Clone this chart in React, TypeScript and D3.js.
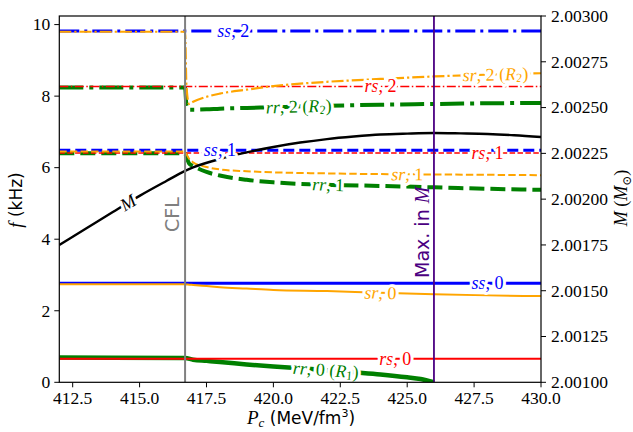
import React from 'react';
import * as d3 from 'd3';

// central pressure grid (MeV/fm^3), hadronic branch ends at CFL onset 416.7
const P = [412, 416.7, 416.75, 416.85, 417, 417.5, 418, 419, 420, 422, 424, 426, 428, 430];
const P_RR0 = [412, 416.7, 417, 417.5, 418, 419, 420, 421, 422, 423, 424, 425, 425.5, 426];
const P_M = [412, 413, 414, 415, 416, 416.7, 417, 418, 419, 420, 421, 422, 423, 424, 425, 426, 427, 428, 429, 430];

// frequencies (kHz)
const ss2 = [9.82, 9.82, 9.82, 9.82, 9.82, 9.82, 9.82, 9.82, 9.82, 9.82, 9.82, 9.82, 9.82, 9.82];
const rs2 = [8.27, 8.27, 8.27, 8.27, 8.27, 8.27, 8.27, 8.27, 8.27, 8.27, 8.27, 8.27, 8.27, 8.27];
const sr2 = [9.8, 9.8, 8.3, 7.78, 7.84, 7.98, 8.07, 8.18, 8.28, 8.4, 8.48, 8.55, 8.6, 8.64];
const rr2 = [8.24, 8.24, 7.75, 7.62, 7.62, 7.63, 7.65, 7.67, 7.69, 7.73, 7.76, 7.78, 7.8, 7.81];
const ss1 = [6.49, 6.49, 6.49, 6.49, 6.49, 6.49, 6.49, 6.49, 6.49, 6.49, 6.49, 6.49, 6.49, 6.49];
const rs1 = [6.41, 6.41, 6.41, 6.41, 6.41, 6.41, 6.41, 6.41, 6.41, 6.41, 6.41, 6.41, 6.41, 6.41];
const sr1 = [6.45, 6.45, 6.38, 6.25, 6.15, 6.02, 5.95, 5.9, 5.87, 5.84, 5.82, 5.81, 5.8, 5.79];
const rr1 = [6.4, 6.4, 6.3, 6.12, 6.05, 5.88, 5.78, 5.66, 5.59, 5.52, 5.49, 5.45, 5.41, 5.38];
const ss0 = [2.77, 2.77, 2.77, 2.77, 2.77, 2.77, 2.77, 2.77, 2.77, 2.77, 2.77, 2.77, 2.77, 2.77];
const sr0 = [2.74, 2.74, 2.735, 2.73, 2.72, 2.69, 2.66, 2.62, 2.58, 2.55, 2.5, 2.46, 2.43, 2.41];
const rs0 = [0.66, 0.66, 0.66, 0.66, 0.66, 0.66, 0.66, 0.66, 0.66, 0.66, 0.66, 0.66, 0.66, 0.66];
const rr0 = [0.69, 0.68, 0.63, 0.6, 0.57, 0.5, 0.44, 0.39, 0.34, 0.28, 0.22, 0.14, 0.09, 0.0];

// gravitational mass (Msun)
const mass = [2.00175, 2.00184, 2.00193, 2.002018, 2.002099, 2.002154, 2.002173, 2.002219, 2.002255, 2.002285,
  2.002309, 2.002328, 2.002342, 2.002353, 2.002358, 2.002361, 2.002359, 2.002356, 2.002349, 2.002339];

const P_CFL = 416.7;
const P_MAX = 426.0;

const xTicks = [412.5, 415, 417.5, 420, 422.5, 425, 427.5, 430];
const fTicks = [0, 2, 4, 6, 8, 10];
const mTicks = [2.001, 2.00125, 2.0015, 2.00175, 2.002, 2.00225, 2.0025, 2.00275, 2.003];

// label: [letters, n, sub], label position in P
const curves = [
  { id: 'rr2', p: P, v: rr2, color: 'green', w: 4, dash: '24,6,4,6', lab: ['rr', 2, 2], at: 420.95 },
  { id: 'rr1', p: P, v: rr1, color: 'green', w: 4, dash: '15,6', lab: ['rr', 1, 0], at: 422.05 },
  { id: 'rr0', p: P_RR0, v: rr0, color: 'green', w: 4.5, dash: null, lab: ['rr', 0, 1], at: 421.96 },
  { id: 'ss2', p: P, v: ss2, color: 'blue', w: 3, dash: '20,5,3,5', lab: ['ss', 2, 0], at: 418.5 },
  { id: 'ss1', p: P, v: ss1, color: 'blue', w: 3, dash: '11,5', lab: ['ss', 1, 0], at: 418.0 },
  { id: 'ss0', p: P, v: ss0, color: 'blue', w: 3, dash: null, lab: ['ss', 0, 0], at: 428.0 },
  { id: 'rs2', p: P, v: rs2, color: 'red', w: 1.5, dash: '9,2.5,1.5,2.5', lab: ['rs', 2, 0], at: 424.0 },
  { id: 'rs1', p: P, v: rs1, color: 'red', w: 1.5, dash: '5.5,2.4', lab: ['rs', 1, 0], at: 428.0 },
  { id: 'rs0', p: P, v: rs0, color: 'red', w: 2, dash: null, lab: ['rs', 0, 0], at: 424.55 },
  { id: 'sr2', p: P, v: sr2, color: 'orange', w: 2.2, dash: '12,3,2.2,3', lab: ['sr', 2, 2], at: 428.3 },
  { id: 'sr1', p: P, v: sr1, color: 'orange', w: 2, dash: '7.4,3.2', lab: ['sr', 1, 0], at: 425.0 },
  { id: 'sr0', p: P, v: sr0, color: 'orange', w: 2, dash: null, lab: ['sr', 0, 0], at: 424.0 },
];

const serif = 'Liberation Serif, DejaVu Serif, serif';
const sans = 'DejaVu Sans, sans-serif';

function interp(ps: number[], vs: number[], p: number) {
  const i = Math.max(1, Math.min(ps.length - 1, d3.bisectLeft(ps, p)));
  const t = (p - ps[i - 1]) / (ps[i] - ps[i - 1]);
  return vs[i - 1] + t * (vs[i] - vs[i - 1]);
}

export default function App() {
  const x = d3.scaleLinear().domain([412, 430]).range([59.3, 541]);
  const y = d3.scaleLinear().domain([0, 10.24]).range([382.3, 16]);
  const yM = d3.scaleLinear().domain([2.001, 2.003]).range([382.3, 16]);
  const [x0, x1] = x.range();
  const [yb, yt] = y.range();

  const lineF = (ps: number[], vs: number[]) =>
    d3.line<number>().x((_, i) => x(ps[i])).y(d => y(d)).curve(d3.curveMonotoneX)(vs) || '';
  const lineM = d3.line<number>().x((_, i) => x(P_M[i])).y(d => yM(d)).curve(d3.curveMonotoneX)(mass) || '';

  const labelAt = (ps: number[], vs: number[], p: number, sc: (v: number) => number) => {
    const px = x(p), py = sc(interp(ps, vs, p));
    const dx = x(p + 0.3) - x(p - 0.3);
    const dy = sc(interp(ps, vs, p + 0.3)) - sc(interp(ps, vs, p - 0.3));
    return { px, py, ang: (Math.atan2(dy, dx) * 180) / Math.PI };
  };

  const halo = { stroke: 'white', strokeWidth: 6, strokeLinejoin: 'round' as const, paintOrder: 'stroke' };

  return (
    <svg width={633} height={432} style={{ position: 'absolute', left: 0, top: 0, background: 'white' }}>
      <defs>
        <clipPath id="plot">
          <rect x={x0} y={yt} width={x1 - x0} height={yb - yt} />
        </clipPath>
      </defs>
      <g clipPath="url(#plot)">
        {curves.map(c => (
          <path key={c.id} d={lineF(c.p, c.v)} fill="none" stroke={c.color} strokeWidth={c.w}
            strokeDasharray={c.dash || undefined} />
        ))}
        <path d={lineM} fill="none" stroke="black" strokeWidth={2.4} />
        <line x1={x(P_CFL)} x2={x(P_CFL)} y1={yt} y2={yb} stroke="gray" strokeWidth={2} />
        <line x1={x(P_MAX)} x2={x(P_MAX)} y1={yt} y2={yb} stroke="indigo" strokeWidth={1.8} />
      </g>

      {/* inline labels */}
      {curves.map(c => {
        const { px, py, ang } = labelAt(c.p, c.v, c.at, y);
        const [ab, n, sub] = c.lab as [string, number, number];
        return (
          <text key={'l' + c.id} transform={`translate(${px},${py}) rotate(${ang})`} textAnchor="middle"
            dominantBaseline="central" fontFamily={serif} fontSize={18} fill={c.color} {...halo}>
            <tspan fontStyle="italic">{ab}</tspan>
            <tspan>{', ' + n}</tspan>
            {sub > 0 && (
              <>
                <tspan>{' ('}</tspan>
                <tspan fontStyle="italic">R</tspan>
                <tspan fontSize={12.5} dy={4}>{sub}</tspan>
                <tspan dy={-4}>)</tspan>
              </>
            )}
          </text>
        );
      })}
      {(() => {
        const { px, py, ang } = labelAt(P_M, mass, 414.57, yM);
        return (
          <text transform={`translate(${px},${py}) rotate(${ang})`} textAnchor="middle" dominantBaseline="central"
            fontFamily={serif} fontStyle="italic" fontSize={18} fill="black" {...halo}>M</text>
        );
      })()}

      {/* vertical line labels */}
      <text transform={`translate(${x(P_CFL) - 6},232) rotate(-90)`} fontFamily={sans} fontSize={19} fill="gray">CFL</text>
      <text transform={`translate(${x(P_MAX) - 5},278) rotate(-90)`} fontFamily={sans} fontSize={19} fill="indigo">
        Max. in <tspan fontFamily={serif} fontStyle="italic" fontSize={20}>M</tspan>
      </text>

      {/* frame */}
      <rect x={x0} y={yt} width={x1 - x0} height={yb - yt} fill="none" stroke="black" strokeWidth={1.2} />

      {/* bottom axis */}
      {xTicks.map(t => (
        <g key={'x' + t}>
          <line x1={x(t)} x2={x(t)} y1={yb} y2={yb + 5} stroke="black" strokeWidth={1} />
          <text x={x(t)} y={404} textAnchor="middle" fontFamily={serif} fontSize={17.5}>{t.toFixed(1)}</text>
        </g>
      ))}
      {/* left axis */}
      {fTicks.map(t => (
        <g key={'f' + t}>
          <line x1={x0 - 5} x2={x0} y1={y(t)} y2={y(t)} stroke="black" strokeWidth={1} />
          <text x={x0 - 9} y={y(t)} dy="0.33em" textAnchor="end" fontFamily={serif} fontSize={17.5}>{t}</text>
        </g>
      ))}
      {/* right axis */}
      {mTicks.map(t => (
        <g key={'m' + t}>
          <line x1={x1} x2={x1 + 5} y1={yM(t)} y2={yM(t)} stroke="black" strokeWidth={1} />
          <text x={x1 + 10} y={yM(t)} dy="0.33em" fontFamily={serif} fontSize={17.5}>{t.toFixed(5)}</text>
        </g>
      ))}

      {/* axis titles */}
      <text transform="translate(301,424)" textAnchor="middle" fontFamily={sans} fontSize={17}>
        <tspan fontFamily={serif} fontStyle="italic" fontSize={19}>P</tspan>
        <tspan fontFamily={serif} fontStyle="italic" fontSize={13} dy={3}>c</tspan>
        <tspan dy={-3}>{' (MeV/fm'}</tspan>
        <tspan fontSize={11} dy={-7}>3</tspan>
        <tspan dy={7}>)</tspan>
      </text>
      <text transform="translate(22,200) rotate(-90)" textAnchor="middle" fontFamily={sans} fontSize={17}>
        <tspan fontFamily={serif} fontStyle="italic" fontSize={19}>f</tspan>
        <tspan>{' (kHz)'}</tspan>
      </text>
      <text transform="translate(627,198) rotate(-90)" textAnchor="middle" fontFamily={serif} fontSize={18}>
        <tspan fontStyle="italic">M</tspan>
        <tspan>{' ('}</tspan>
        <tspan fontStyle="italic">M</tspan>
        <tspan fontSize={12} dy={4}>⊙</tspan>
        <tspan dy={-4}>)</tspan>
      </text>
    </svg>
  );
}
